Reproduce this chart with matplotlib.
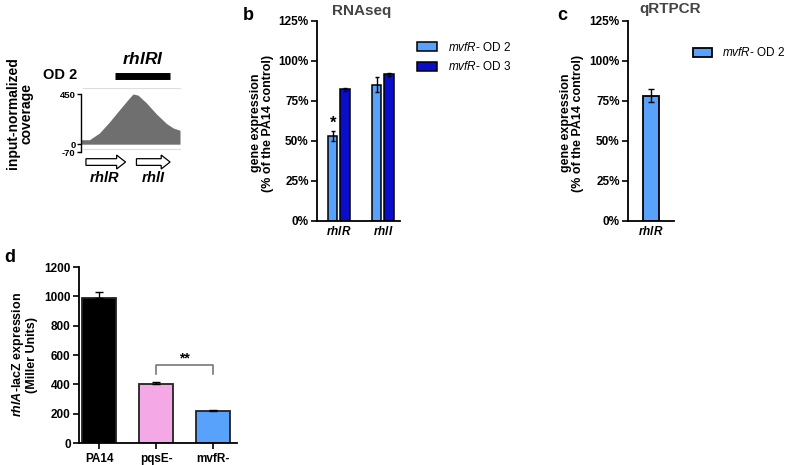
import matplotlib
matplotlib.use("Agg")
import matplotlib.pyplot as plt
from matplotlib.patches import FancyArrow

plt.rcParams['font.family'] = ['Liberation Sans', 'DejaVu Sans']
plt.rcParams['mathtext.fontset'] = 'custom'
plt.rcParams['mathtext.it'] = 'Liberation Sans:italic:bold'
plt.rcParams['mathtext.rm'] = 'Liberation Sans:bold'
plt.rcParams['mathtext.sf'] = 'Liberation Sans:italic'
plt.rcParams['axes.linewidth'] = 1.3

# panel a: coverage profile
cov_pos = [0, 8.5, 18.6, 28.8, 39, 47.5, 52.5, 57.6, 66.1, 76.3, 86.4, 93.2, 100]
cov_val = [40, 40, 100, 200, 310, 400, 450, 440, 370, 270, 185, 145, 125]

# panel b: RNAseq
rna_genes = ['rhlR', 'rhlI']
rna_od2 = [0.53, 0.85]
rna_od2_err = [0.03, 0.045]
rna_od3 = [0.82, 0.915]
rna_od3_err = [0.01, 0.008]

# panel c: qRTPCR
qpcr_genes = ['rhlR']
qpcr_od2 = [0.78]
qpcr_err = [0.04]

# panel d: rhlA-lacZ
strains = ['PA14', 'pqsE-', 'mvfR-']
miller = [990, 405, 215]
miller_err = [40, 10, 12]

c_light = '#58a2fb'
c_dark = '#0a0ecb'
c_pink = '#f5a8e6'

W, H = 787, 465
fig = plt.figure(figsize=(W / 100, H / 100), dpi=100)


def box(L, R, T, B):
    return [L / W, 1 - B / H, (R - L) / W, (B - T) / H]


def ftext(x, y, s, **kw):
    kw.setdefault('ha', 'center')
    kw.setdefault('va', 'center')
    kw.setdefault('fontweight', 'bold')
    return fig.text(x / W, 1 - y / H, s, **kw)


def style(ax, xtick_len=0):
    for s in ['top', 'right']:
        ax.spines[s].set_visible(False)
    ax.tick_params(axis='y', direction='out', length=4, width=1.2, labelsize=8.5, pad=2)
    ax.tick_params(axis='x', direction='out', length=xtick_len, width=1.2, labelsize=8.5, pad=3)
    for lbl in ax.get_xticklabels() + ax.get_yticklabels():
        lbl.set_fontweight('bold')


def pct(ax):
    ax.set_ylim(0, 1.25)
    ax.set_yticks([0, 0.25, 0.5, 0.75, 1.0, 1.25])
    ax.set_yticklabels(['0%', '25%', '50%', '75%', '100%', '125%'])


# ---- panel a ----
axa = fig.add_axes(box(81, 180, 94, 152))
axa.fill_between(cov_pos, 0, cov_val, color='#6f6f6f', lw=0)
axa.set_xlim(0, 100)
axa.set_ylim(-70, 450)
axa.set_yticks([-70, 0, 450])
axa.set_yticklabels(['-70', '0', '450'])
for s in ['top', 'right', 'bottom']:
    axa.spines[s].set_visible(False)
axa.spines['left'].set_linewidth(1.0)
axa.set_xticks([])
axa.tick_params(axis='y', length=3, width=1.0, labelsize=6.8, pad=1)
for lbl in axa.get_yticklabels():
    lbl.set_fontweight('bold')
axa.plot([2, 100], [500, 500], color='#dddddd', lw=0.8, clip_on=False)
axa.plot([2, 100], [-40, -40], color='#dddddd', lw=0.8, clip_on=False)
axa.plot([34, 90], [614, 614], color='black', lw=5, solid_capstyle='butt', clip_on=False)
for x0, x1 in [(5, 45), (56, 90)]:
    axa.add_patch(FancyArrow(x0, -160, x1 - x0, 0, width=60, head_width=125,
                             head_length=9, length_includes_head=True,
                             fc='white', ec='black', lw=0.9, clip_on=False))
axa.text(24, -300, '$rhlR$', ha='center', va='center', fontsize=10.5)
axa.text(73, -300, '$rhlI$', ha='center', va='center', fontsize=10.5)
ftext(143, 59, '$rhlRI$', fontsize=12.5)
ftext(60, 75, 'OD 2', fontsize=10.5)
ftext(20, 113, 'input-normalized\ncoverage', rotation=90, fontsize=10, linespacing=1.0)

# ---- panel b ----
axb = fig.add_axes(box(317, 400, 20.7, 220.7))
xb = list(range(len(rna_genes)))
axb.bar([x - 0.14 for x in xb], rna_od2, 0.21, yerr=rna_od2_err, color=c_light,
        edgecolor='black', lw=1.1, capsize=1.5, error_kw={'elinewidth': 1, 'capthick': 1},
        label='$\\mathsf{mvfR}$- OD 2')
axb.bar([x + 0.14 for x in xb], rna_od3, 0.21, yerr=rna_od3_err, color=c_dark,
        edgecolor='black', lw=1.1, capsize=1.5, error_kw={'elinewidth': 1, 'capthick': 1},
        label='$\\mathsf{mvfR}$- OD 3')
axb.set_xlim(-0.5, 1.39)
pct(axb)
axb.set_xticks(xb)
axb.set_xticklabels(['$' + g + '$' for g in rna_genes])
style(axb)
axb.text(-0.14, 0.61, '*', ha='center', va='center', fontsize=12, fontweight='bold')
axb.legend(loc='center left', bbox_to_anchor=(417 / W, 1 - 57 / H), bbox_transform=fig.transFigure,
           frameon=False, prop={'size': 8.5}, handlelength=1.7, borderpad=0, borderaxespad=0,
           handleheight=0.8, labelspacing=0.55, handletextpad=0.9)
ftext(262, 123, 'gene expression\n(% of the PA14 control)', rotation=90, fontsize=9, linespacing=1.05)
ftext(362, 11, 'RNAseq', fontsize=11, color='#444444')
ftext(248, 16, 'b', fontsize=13)

# ---- panel c ----
axc = fig.add_axes(box(628, 674, 20.7, 220.7))
axc.bar([0], qpcr_od2, 0.7, yerr=qpcr_err, color=c_light, edgecolor='black', lw=1.3,
        capsize=2, error_kw={'elinewidth': 1, 'capthick': 1}, label='$\\mathsf{mvfR}$- OD 2')
axc.set_xlim(-1, 1)
pct(axc)
axc.set_xticks([0])
axc.set_xticklabels(['$' + g + '$' for g in qpcr_genes])
style(axc)
axc.legend(loc='center left', bbox_to_anchor=(693 / W, 1 - 53 / H), bbox_transform=fig.transFigure,
           frameon=False, prop={'size': 8.5}, handlelength=1.6, borderpad=0, borderaxespad=0,
           handleheight=0.8, handletextpad=0.85)
ftext(572, 123, 'gene expression\n(% of the PA14 control)', rotation=90, fontsize=9, linespacing=1.05)
ftext(670, 9, 'qRTPCR', fontsize=11, color='#444444')
ftext(562, 15, 'c', fontsize=13)

# ---- panel d ----
axd = fig.add_axes(box(79, 237, 267, 443))
xd = list(range(len(strains)))
axd.bar(xd, miller, 0.6, yerr=[[0] * 3, miller_err], color=['black', c_pink, c_light],
        edgecolor='#222222', lw=1.3, capsize=3, error_kw={'elinewidth': 1, 'capthick': 1})
axd.set_xlim(-0.36, 2.43)
axd.set_ylim(0, 1200)
axd.set_yticks(range(0, 1201, 200))
axd.set_xticks(xd)
axd.set_xticklabels(strains)
style(axd, xtick_len=4)
axd.plot([1, 1, 2, 2], [470, 532, 532, 470], color='#777777', lw=1.2)
axd.text(1.5, 575, '**', ha='center', va='center', fontsize=10, fontweight='bold')
ftext(24, 355, '$rhlA$-lacZ expression\n(Miller Units)', rotation=90, fontsize=9, linespacing=1.1)
ftext(10, 257, 'd', fontsize=13)

fig.savefig('out.png', dpi=100)
